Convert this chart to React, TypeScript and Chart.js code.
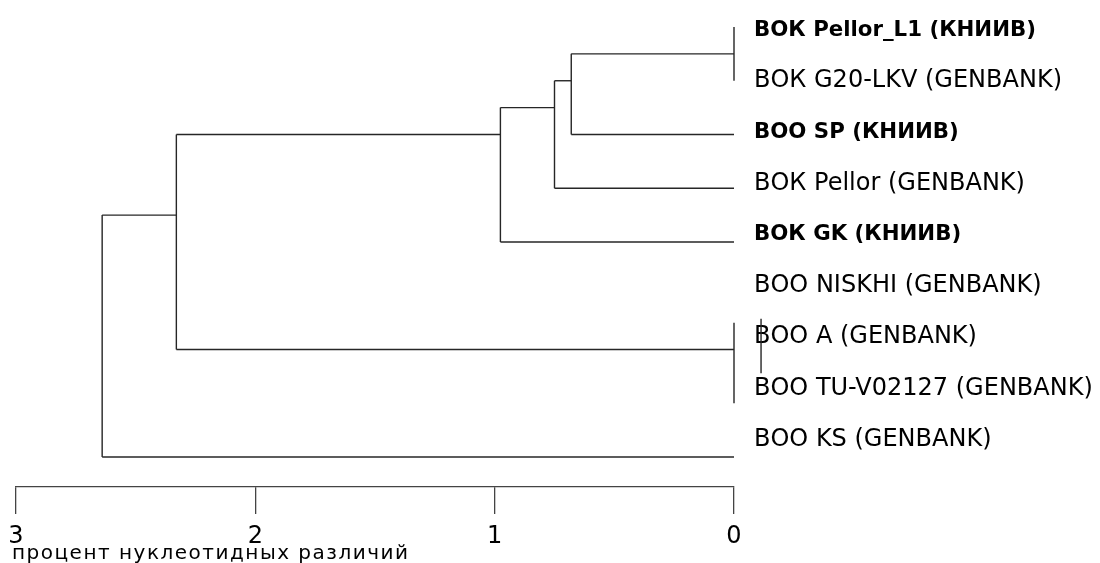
import React, { useEffect, useRef } from 'react';
import { Chart, registerables } from 'chart.js';

Chart.register(...registerables);

// Leaves (top to bottom)
const LEAF_LABELS = [
  'ВОК Pellor_L1 (КНИИВ)',
  'ВОК G20-LKV (GENBANK)',
  'ВОО SP (КНИИВ)',
  'ВОК Pellor (GENBANK)',
  'ВОК GK (КНИИВ)',
  'ВОО NISKHI (GENBANK)',
  'ВОО A (GENBANK)',
  'ВОО TU-V02127 (GENBANK)',
  'ВОО KS (GENBANK)',
];
const LEAF_BOLD = [true, false, true, false, true, false, false, false, false];
// index of the internal node each leaf hangs from (-1 = none)
const LEAF_PARENT = [0, 0, 1, 2, 3, -1, 5, 5, 6];

// Internal nodes: distance (% differences), row position, vertical span, parent
const NODE_HEIGHT = [0, 0.68, 0.75, 0.976, 2.33, 0, 2.64];
const NODE_ROW = [0.5, 1, 1.5, 2, 3.5, 6, 4];
const NODE_SPAN_FROM = [0, 0.5, 1, 1.5, 2, 5.5, 3.5];
const NODE_SPAN_TO = [1, 2, 3, 4, 6, 7, 8];
const NODE_PARENT = [1, 2, 3, 4, 6, 4, -1];

// stray vertical stroke next to "ВОО A"
const STRAY_X = [-0.113, -0.113];
const STRAY_ROW = [5.43, 6.44];

const X_TICKS = [3, 2, 1, 0];
const AXIS_TITLE = 'процент нуклеотидных различий';

const FONT = "'DejaVu Sans', sans-serif";
const LINE_COLOR = '#262626';

function buildSegments() {
  const segs: { x: number; y: number }[][] = [];
  LEAF_PARENT.forEach((p, i) => {
    if (p < 0) return;
    if (NODE_HEIGHT[p] > 0) segs.push([{ x: 0, y: i }, { x: NODE_HEIGHT[p], y: i }]);
  });
  NODE_HEIGHT.forEach((h, n) => {
    segs.push([{ x: h, y: NODE_SPAN_FROM[n] }, { x: h, y: NODE_SPAN_TO[n] }]);
    const p = NODE_PARENT[n];
    if (p >= 0) segs.push([{ x: h, y: NODE_ROW[n] }, { x: NODE_HEIGHT[p], y: NODE_ROW[n] }]);
  });
  segs.push([{ x: STRAY_X[0], y: STRAY_ROW[0] }, { x: STRAY_X[1], y: STRAY_ROW[1] }]);
  return segs;
}

const captionPlugin = {
  id: 'caption',
  afterDraw(chart: any) {
    const ctx = chart.ctx;
    ctx.save();
    ctx.font = `20px ${FONT}`;
    ctx.fillStyle = '#000';
    ctx.textAlign = 'left';
    ctx.textBaseline = 'alphabetic';
    (ctx as any).letterSpacing = '1.5px';
    ctx.fillText(AXIS_TITLE, chart.chartArea.left - 4, 559);
    ctx.restore();
  },
};

export default function App() {
  const ref = useRef<HTMLCanvasElement | null>(null);
  useEffect(() => {
    if (!ref.current) return;
    const segs = buildSegments();
    const chart = new Chart(ref.current, {
      type: 'line',
      data: {
        datasets: segs.map((s) => ({
          data: s,
          borderColor: LINE_COLOR,
          borderWidth: 1.4,
          pointRadius: 0,
          fill: false,
          clip: false as any,
          xAxisID: 'x',
          yAxisID: 'y',
        })),
      },
      options: {
        animation: false,
        responsive: true,
        maintainAspectRatio: false,
        layout: { padding: { left: 16, top: 20, right: 0, bottom: 0 } },
        plugins: { legend: { display: false }, tooltip: { enabled: false } },
        scales: {
          x: {
            type: 'linear',
            position: 'bottom',
            reverse: true,
            min: 0,
            max: 3,
            afterBuildTicks: (s: any) => {
              s.ticks = X_TICKS.map((v) => ({ value: v }));
            },
            afterFit: (s: any) => {
              s.height = 76;
              s.paddingLeft = 0;
              s.paddingRight = 0;
            },
            ticks: {
              font: { family: FONT, size: 24 },
              color: '#000',
              padding: 8,
              maxRotation: 0,
              callback: (v: any) => String(v),
            },
            grid: {
              display: true,
              drawOnChartArea: false,
              drawTicks: true,
              tickLength: 27,
              color: '#444',
              lineWidth: 1.3,
            },
            border: { display: true, color: '#444', width: 1.3 },
          },
          y: {
            type: 'linear',
            display: false,
            reverse: true,
            min: -0.13,
            max: 8.558,
          },
          yL: {
            type: 'linear',
            position: 'right',
            reverse: true,
            min: -0.195,
            max: 8.926,
            afterBuildTicks: (s: any) => {
              s.ticks = LEAF_LABELS.map((_, i) => ({ value: i }));
            },
            afterFit: (s: any) => {
              s.width = 366;
              s.paddingTop = 0;
              s.paddingBottom = 0;
            },
            ticks: {
              color: '#000',
              padding: 20,
              font: (ctx: any) =>
                LEAF_BOLD[ctx.index]
                  ? { family: FONT, size: 21.3, weight: 'bold' }
                  : { family: FONT, size: 24, weight: 'normal' },
              callback: (v: any) => LEAF_LABELS[v as number] ?? '',
            },
            grid: { display: false, drawTicks: false },
            border: { display: false },
          },
        },
      },
      plugins: [captionPlugin],
    });
    return () => chart.destroy();
  }, []);
  return (
    <div style={{ position: 'fixed', left: 0, top: 0, width: 1100, height: 563, background: '#fff' }}>
      <canvas ref={ref} />
    </div>
  );
}
